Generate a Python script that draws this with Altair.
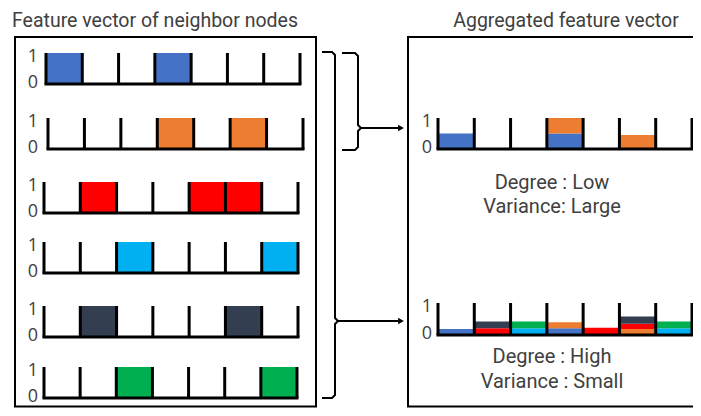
import altair as alt
import pandas as pd

# ---------------- data ----------------
neighbor_colors = ["#4472C4", "#ED7D31", "#FF0000", "#00B0F0", "#333F50", "#00B050"]
# one-hot style feature vectors of the six neighbor nodes (7 slots each)
neighbor_vectors = [
    [1, 0, 0, 1, 0, 0, 0],
    [0, 0, 0, 1, 0, 1, 0],
    [0, 1, 0, 0, 1, 1, 0],
    [0, 0, 1, 0, 0, 0, 1],
    [0, 1, 0, 0, 0, 1, 0],
    [0, 0, 1, 0, 0, 0, 1],
]
# aggregated vectors: (slot, neighbor index, share) stacked from the bottom
agg_low_slot = [0, 3, 3, 5]
agg_low_node = [0, 0, 1, 1]
agg_low_share = [0.5, 0.5, 0.5, 0.45]
agg_high_slot = [0, 1, 1, 2, 2, 3, 3, 4, 5, 5, 5, 6, 6]
agg_high_node = [0, 2, 4, 3, 5, 0, 1, 2, 1, 2, 4, 3, 5]
agg_high_share = [0.19, 0.21, 0.21, 0.21, 0.21, 0.21, 0.19, 0.23, 0.19, 0.16, 0.23, 0.21, 0.21]

left_title = "Feature vector of neighbor nodes"
right_title = "Aggregated feature vector"
low_text = ["Degree : Low", "Variance: Large"]
high_text = ["Degree : High", "Variance : Small"]

# ---------------- layout ----------------
FONT = "Open Sans"
FONT2 = "Roboto"
TXT = "#404040"
n_slots = 7
left_base = [84, 149, 213, 273, 337, 398]
left_x0 = [46, 48, 44, 44, 44, 44]
left_x1 = [300, 303, 298, 298, 298, 297]
left_h = 31
right_x0, right_x1 = 438, 692
right_base = [149, 335]
right_h = [31, 32]

rects, ticks, bases, labels = [], [], [], []


def add_axis(x0, x1, base, h, lab_x):
    w = (x1 - x0) / n_slots
    for k in range(n_slots + 1):
        ticks.append(dict(x=x0 + k * w, y=base - h, y2=base))
    bases.append(dict(x=x0, x2=x1, y=base))
    labels.append(dict(x=lab_x, y=base - h + 4, t="1"))
    labels.append(dict(x=lab_x, y=base - 1, t="0"))
    return w


for i, vec in enumerate(neighbor_vectors):
    x0, x1, base = left_x0[i], left_x1[i], left_base[i]
    w = add_axis(x0, x1, base, left_h, 33)
    for j, v in enumerate(vec):
        if v:
            rects.append(dict(x=x0 + j * w, x2=x0 + (j + 1) * w,
                              y=base - v * left_h, y2=base, c=neighbor_colors[i]))

for k, (slots, nodes, shares) in enumerate([
        (agg_low_slot, agg_low_node, agg_low_share),
        (agg_high_slot, agg_high_node, agg_high_share)]):
    base, h = right_base[k], right_h[k]
    w = add_axis(right_x0, right_x1, base, h, 427)
    cum = {}
    for s, n, v in zip(slots, nodes, shares):
        c0 = cum.get(s, 0.0)
        rects.append(dict(x=right_x0 + s * w, x2=right_x0 + (s + 1) * w,
                          y=base - (c0 + v) * h, y2=base - c0 * h, c=neighbor_colors[n]))
        cum[s] = c0 + v

# box bottoms kept just inside the drawable page area
boxes = pd.DataFrame([dict(x=15, x2=316, y=37, y2=406.5), dict(x=408, x2=730, y=37, y2=406.5)])

brace_pts = []
small = [(342, 53), (355, 53), (358, 56), (358, 125), (361, 128), (358, 131), (358, 147), (355, 150), (342, 150)]
big = [(322, 52), (332, 52), (335, 55), (335, 318), (338, 321), (335, 324), (335, 395), (332, 398), (322, 398)]
for g, pts in enumerate([small, big]):
    for o, (px, py) in enumerate(pts):
        brace_pts.append(dict(x=px, y=py, g=g, o=o))
arrows = pd.DataFrame([dict(x=361, x2=399, y=128), dict(x=338, x2=399, y=321)])
heads = pd.DataFrame([dict(x=401, y=128), dict(x=401, y=321)])

titles_left = pd.DataFrame([dict(x=12, y=26.5, t=left_title)])
titles_right = pd.DataFrame([dict(x=566, y=26.5, t=right_title)])
center_text = pd.DataFrame([
    dict(x=552, y=183, t=low_text[0]),
    dict(x=552, y=207, t=low_text[1]),
    dict(x=552, y=357, t=high_text[0]),
    dict(x=552, y=382, t=high_text[1]),
])

# page pixel = data value (8px page margin compensated by the domain start)
xs = alt.Scale(domain=[8, 693], nice=False, zero=False)
ys = alt.Scale(domain=[8, 408], nice=False, zero=False, reverse=True)
X = lambda f="x": alt.X(f + ":Q", scale=xs, axis=None)
Y = lambda f="y": alt.Y(f + ":Q", scale=ys, axis=None)

box_layer = alt.Chart(boxes).mark_rect(fillOpacity=0, stroke="black", strokeWidth=2).encode(
    x=X(), x2="x2:Q", y=Y(), y2="y2:Q")
rect_layer = alt.Chart(pd.DataFrame(rects)).mark_rect().encode(
    x=X(), x2="x2:Q", y=Y(), y2="y2:Q", color=alt.Color("c:N", scale=None))
tick_layer = alt.Chart(pd.DataFrame(ticks)).mark_rule(color="black", strokeWidth=3).encode(
    x=X(), y=Y(), y2="y2:Q")
base_layer = alt.Chart(pd.DataFrame(bases)).mark_rule(color="black", strokeWidth=3, strokeCap="square").encode(
    x=X(), x2="x2:Q", y=Y())
label_layer = alt.Chart(pd.DataFrame(labels)).mark_text(
    font=FONT, fontSize=18, color=TXT, align="center", baseline="middle").encode(
    x=X(), y=Y(), text="t:N")
brace_layer = alt.Chart(pd.DataFrame(brace_pts)).mark_line(color="black", strokeWidth=2).encode(
    x=X(), y=Y(), detail="g:N", order="o:Q")
arrow_layer = alt.Chart(arrows).mark_rule(color="black", strokeWidth=2).encode(
    x=X(), x2="x2:Q", y=Y())
head_layer = alt.Chart(heads).mark_point(shape="triangle-right", filled=True, size=45,
                                         color="black", opacity=1).encode(x=X(), y=Y())
tl_layer = alt.Chart(titles_left).mark_text(
    font=FONT2, fontSize=19.5, color=TXT, align="left", baseline="alphabetic").encode(
    x=X(), y=Y(), text="t:N")
tr_layer = alt.Chart(titles_right).mark_text(
    font=FONT2, fontSize=19.5, color=TXT, align="center", baseline="alphabetic").encode(
    x=X(), y=Y(), text="t:N")
tc_layer = alt.Chart(center_text).mark_text(
    font=FONT2, fontSize=20, color=TXT, align="center", baseline="middle").encode(
    x=X(), y=Y(), text="t:N")

chart = alt.layer(
    box_layer, rect_layer, tick_layer, base_layer, label_layer,
    brace_layer, arrow_layer, head_layer, tl_layer, tr_layer, tc_layer
).properties(
    width=685, height=400, padding=0, autosize=alt.AutoSizeParams(type="none"),
    background="white"
).configure_view(strokeWidth=0)

chart.save("out.html", embed_options={"renderer": "svg", "actions": False})
